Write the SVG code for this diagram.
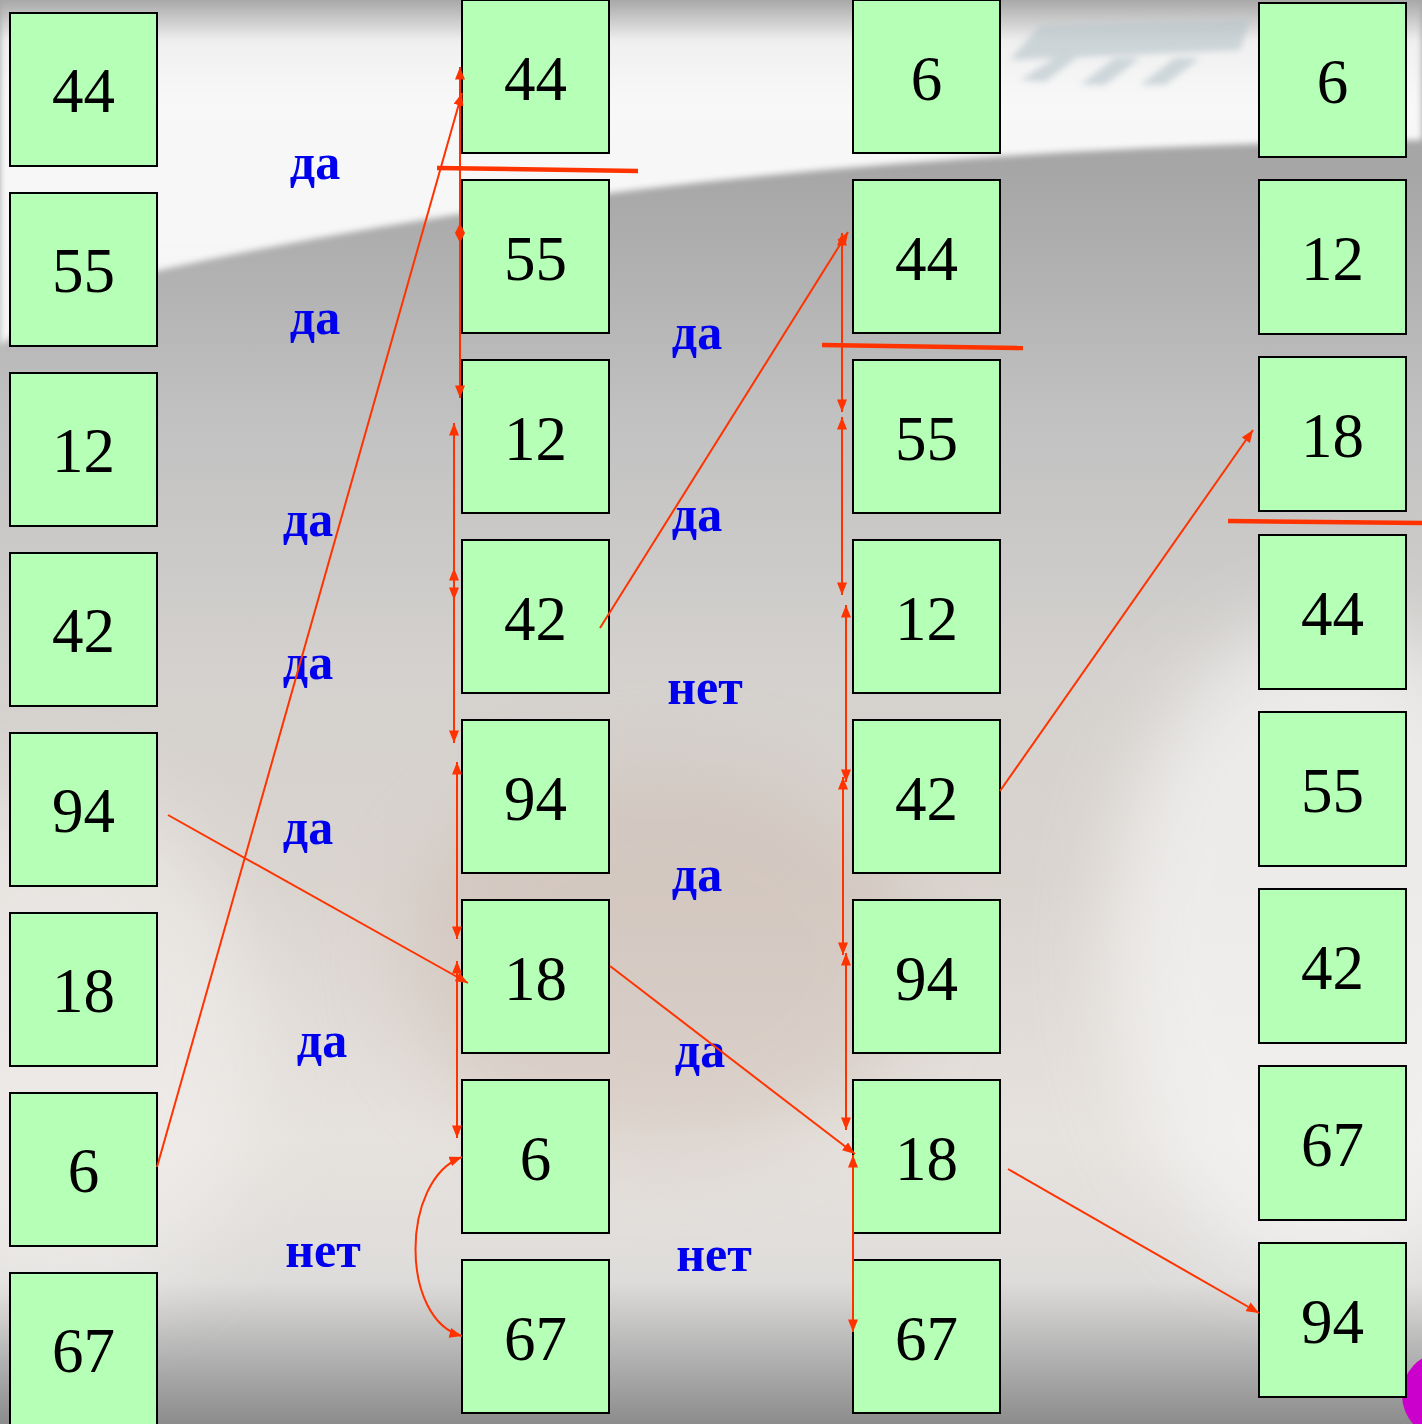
<svg xmlns="http://www.w3.org/2000/svg" width="1422" height="1424" viewBox="0 0 1422 1424">
<style>
.box{fill:#b6ffb6;stroke:#000;stroke-width:2}
.num{font-family:"Liberation Serif","Times New Roman",serif;font-size:63px;fill:#000;text-anchor:middle}
.lbl{font-family:"Liberation Serif","Times New Roman",serif;font-size:50px;font-weight:bold;fill:#0000ee;text-anchor:middle}
.d{stroke:#ff3300;stroke-width:2;fill:none;marker-start:url(#ah);marker-end:url(#ah)}
.e{stroke:#ff3300;stroke-width:2;fill:none;marker-end:url(#ah)}
.sep{stroke:#ff3300;stroke-width:4.5}
</style>
<defs>
<marker id="ah" viewBox="0 0 10 8" refX="10" refY="4" markerWidth="13" markerHeight="10" orient="auto-start-reverse" markerUnits="userSpaceOnUse">
<path d="M0,0 L10,4 L0,8 Z" fill="#ff3300"/>
</marker>
<linearGradient id="gBase" x1="0" y1="0" x2="0" y2="1424" gradientUnits="userSpaceOnUse">
<stop offset="0" stop-color="#a4a4a4"/>
<stop offset="0.12" stop-color="#a6a6a6"/>
<stop offset="0.3" stop-color="#c2c2c2"/>
<stop offset="0.47" stop-color="#d4d1ce"/>
<stop offset="0.62" stop-color="#dad4cf"/>
<stop offset="0.8" stop-color="#e6e2de"/>
<stop offset="0.9" stop-color="#dedcda"/>
<stop offset="0.95" stop-color="#b4b4b4"/>
<stop offset="1" stop-color="#8c8c8c"/>
</linearGradient>
<linearGradient id="gTop" x1="0" y1="0" x2="0" y2="345" gradientUnits="userSpaceOnUse">
<stop offset="0" stop-color="#a8a8a8"/>
<stop offset="0.12" stop-color="#f0f0f0"/>
<stop offset="0.3" stop-color="#f8f8f8"/>
<stop offset="1" stop-color="#f6f6f6"/>
</linearGradient>
<filter id="blur" x="-30%" y="-30%" width="160%" height="160%"><feGaussianBlur stdDeviation="40"/></filter>
<filter id="blur2" x="-20%" y="-20%" width="140%" height="140%"><feGaussianBlur stdDeviation="3"/></filter>
</defs>

<g id="background">
<rect x="0" y="0" width="1422" height="1424" fill="url(#gBase)"/>
<ellipse cx="60" cy="1050" rx="200" ry="260" fill="#f2f0ee" opacity="0.6" filter="url(#blur)"/>
<ellipse cx="1330" cy="950" rx="220" ry="330" fill="#f6f6f6" opacity="0.7" filter="url(#blur)"/>
<ellipse cx="660" cy="960" rx="260" ry="200" fill="#c8b2a6" opacity="0.35" filter="url(#blur)"/>
<path d="M0,0 H1422 V140 Q700,150 160,270 Q60,300 0,345 Z" fill="url(#gTop)" filter="url(#blur2)"/>
<g fill="#b4c2c8" opacity="0.6" filter="url(#blur2)">
<path d="M1010,60 L1040,25 L1250,20 L1240,50 Z"/>
<path d="M1020,80 L1060,55 L1080,55 L1045,82 Z"/>
<path d="M1080,85 L1115,58 L1140,58 L1105,85 Z"/>
<path d="M1140,85 L1175,58 L1200,58 L1165,85 Z"/>
</g>
<ellipse cx="1442" cy="1395" rx="40" ry="42" fill="#cc00cc"/>
</g>

<g id="col1">
<g id="n1-1"><rect class="box" x="10" y="13" width="147" height="153"/><text class="num" x="83.5" y="112">44</text></g>
<g id="n1-2"><rect class="box" x="10" y="193" width="147" height="153"/><text class="num" x="83.5" y="292">55</text></g>
<g id="n1-3"><rect class="box" x="10" y="373" width="147" height="153"/><text class="num" x="83.5" y="472">12</text></g>
<g id="n1-4"><rect class="box" x="10" y="553" width="147" height="153"/><text class="num" x="83.5" y="652">42</text></g>
<g id="n1-5"><rect class="box" x="10" y="733" width="147" height="153"/><text class="num" x="83.5" y="832">94</text></g>
<g id="n1-6"><rect class="box" x="10" y="913" width="147" height="153"/><text class="num" x="83.5" y="1012">18</text></g>
<g id="n1-7"><rect class="box" x="10" y="1093" width="147" height="153"/><text class="num" x="83.5" y="1192">6</text></g>
<g id="n1-8"><rect class="box" x="10" y="1273" width="147" height="160"/><text class="num" x="83.5" y="1372">67</text></g>
</g>

<g id="col2">
<g id="n2-1"><rect class="box" x="462" y="0" width="147" height="153"/><text class="num" x="535.5" y="100">44</text></g>
<g id="n2-2"><rect class="box" x="462" y="180" width="147" height="153"/><text class="num" x="535.5" y="280">55</text></g>
<g id="n2-3"><rect class="box" x="462" y="360" width="147" height="153"/><text class="num" x="535.5" y="460">12</text></g>
<g id="n2-4"><rect class="box" x="462" y="540" width="147" height="153"/><text class="num" x="535.5" y="640">42</text></g>
<g id="n2-5"><rect class="box" x="462" y="720" width="147" height="153"/><text class="num" x="535.5" y="820">94</text></g>
<g id="n2-6"><rect class="box" x="462" y="900" width="147" height="153"/><text class="num" x="535.5" y="1000">18</text></g>
<g id="n2-7"><rect class="box" x="462" y="1080" width="147" height="153"/><text class="num" x="535.5" y="1180">6</text></g>
<g id="n2-8"><rect class="box" x="462" y="1260" width="147" height="153"/><text class="num" x="535.5" y="1360">67</text></g>
</g>

<g id="col3">
<g id="n3-1"><rect class="box" x="853" y="0" width="147" height="153"/><text class="num" x="926.5" y="100">6</text></g>
<g id="n3-2"><rect class="box" x="853" y="180" width="147" height="153"/><text class="num" x="926.5" y="280">44</text></g>
<g id="n3-3"><rect class="box" x="853" y="360" width="147" height="153"/><text class="num" x="926.5" y="460">55</text></g>
<g id="n3-4"><rect class="box" x="853" y="540" width="147" height="153"/><text class="num" x="926.5" y="640">12</text></g>
<g id="n3-5"><rect class="box" x="853" y="720" width="147" height="153"/><text class="num" x="926.5" y="820">42</text></g>
<g id="n3-6"><rect class="box" x="853" y="900" width="147" height="153"/><text class="num" x="926.5" y="1000">94</text></g>
<g id="n3-7"><rect class="box" x="853" y="1080" width="147" height="153"/><text class="num" x="926.5" y="1180">18</text></g>
<g id="n3-8"><rect class="box" x="853" y="1260" width="147" height="153"/><text class="num" x="926.5" y="1360">67</text></g>
</g>

<g id="col4">
<g id="n4-1"><rect class="box" x="1259" y="3" width="147" height="154"/><text class="num" x="1332.5" y="103">6</text></g>
<g id="n4-2"><rect class="box" x="1259" y="180" width="147" height="154"/><text class="num" x="1332.5" y="280">12</text></g>
<g id="n4-3"><rect class="box" x="1259" y="357" width="147" height="154"/><text class="num" x="1332.5" y="457">18</text></g>
<g id="n4-4"><rect class="box" x="1259" y="535" width="147" height="154"/><text class="num" x="1332.5" y="635">44</text></g>
<g id="n4-5"><rect class="box" x="1259" y="712" width="147" height="154"/><text class="num" x="1332.5" y="812">55</text></g>
<g id="n4-6"><rect class="box" x="1259" y="889" width="147" height="154"/><text class="num" x="1332.5" y="989">42</text></g>
<g id="n4-7"><rect class="box" x="1259" y="1066" width="147" height="154"/><text class="num" x="1332.5" y="1166">67</text></g>
<g id="n4-8"><rect class="box" x="1259" y="1243" width="147" height="154"/><text class="num" x="1332.5" y="1343">94</text></g>
</g>

<g id="labels">
<text class="lbl" x="315" y="179">да</text>
<text class="lbl" x="315" y="334">да</text>
<text class="lbl" x="308" y="536">да</text>
<text class="lbl" x="308" y="679">да</text>
<text class="lbl" x="308" y="844">да</text>
<text class="lbl" x="322" y="1057">да</text>
<text class="lbl" x="323" y="1267">нет</text>
<text class="lbl" x="697" y="349">да</text>
<text class="lbl" x="697" y="531">да</text>
<text class="lbl" x="705" y="704">нет</text>
<text class="lbl" x="697" y="891">да</text>
<text class="lbl" x="700" y="1067">да</text>
<text class="lbl" x="714" y="1271">нет</text>
</g>

<g id="connectors">
<line class="sep" x1="437" y1="168" x2="638" y2="171"/>
<line class="sep" x1="822" y1="345" x2="1023" y2="348"/>
<line class="sep" x1="1228" y1="521" x2="1422" y2="523"/>
<line class="e" x1="157" y1="1167" x2="462" y2="93"/>
<line class="e" x1="460" y1="233" x2="460" y2="67"/>
<line class="e" x1="460" y1="233" x2="460" y2="398"/>
<polygon points="460,223 465,233 460,243 455,233" fill="#ff3300"/>
<line class="d" x1="454" y1="423" x2="454" y2="600"/>
<line class="d" x1="454" y1="568" x2="454" y2="743"/>
<line class="d" x1="457" y1="762" x2="457" y2="939"/>
<line class="d" x1="457" y1="961" x2="457" y2="1138"/>
<path class="d" d="M462,1157 C400,1180 400,1320 462,1336"/>
<line class="e" x1="168" y1="815" x2="468" y2="983"/>
<line class="e" x1="600" y1="628" x2="848" y2="232"/>
<line class="d" x1="842" y1="233" x2="842" y2="412"/>
<line class="d" x1="842" y1="417" x2="842" y2="595"/>
<line class="d" x1="846" y1="605" x2="846" y2="782"/>
<line class="d" x1="843" y1="777" x2="843" y2="955"/>
<line class="d" x1="846" y1="953" x2="846" y2="1130"/>
<line class="e" x1="610" y1="966" x2="855" y2="1154"/>
<line class="d" x1="853" y1="1155" x2="853" y2="1332"/>
<line class="e" x1="1000" y1="791" x2="1253" y2="430"/>
<line class="e" x1="1008" y1="1169" x2="1259" y2="1313"/>
</g>
</svg>
